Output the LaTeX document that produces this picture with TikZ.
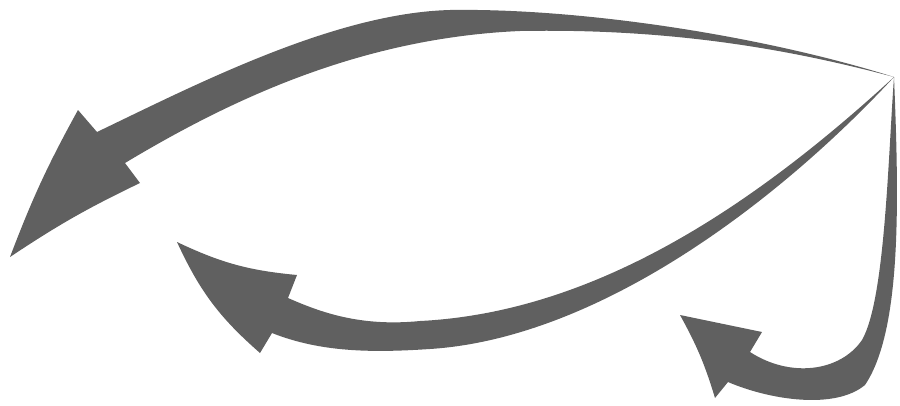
\documentclass[tikz,border=0pt]{standalone}
\usepackage{xcolor}
\usepackage{tikz}
\definecolor{ArrowGrey}{HTML}{606060}

\begin{document}
\begin{tikzpicture}[
    x=1pt, y=-1pt,
    bigarrow/.style={fill=ArrowGrey, draw=none}
  ]
    \useasboundingbox (0,0) rectangle (900,405);
    \coordinate (hub) at (894,77);
    \coordinate (tipTop) at (10,257);
    \coordinate (tipMid) at (177,242);
    \coordinate (tipLow) at (680,315);

    \fill[bigarrow] (hub)
      .. controls (760,35) and (580,8) .. (450,10)
      .. controls (335,13) and (197,84) .. (97,132)
      -- (78,110) to[bend right=4] (tipTop) to[bend left=4] (140,183) -- (125,163)
      .. controls (230,100) and (360,38) .. (520,31)
      .. controls (680,28) and (800,52) .. (hub)
      -- cycle;

    \fill[bigarrow] (hub)
      .. controls (760,200) and (600,312) .. (420,321)
      .. controls (360,327) and (320,312) .. (288,298)
      -- (297,275) to[bend left=10] (tipMid) to[bend right=12] (260,353) -- (272,333)
      .. controls (320,352) and (370,353) .. (430,349)
      .. controls (600,338) and (780,200) .. (hub)
      -- cycle;

    \fill[bigarrow] (hub)
      .. controls (899,200) and (902,330) .. (865,385)
      .. controls (835,410) and (770,400) .. (728,382)
      -- (715,398) to[bend right=6] (tipLow) -- (762,332) -- (750,352)
      .. controls (790,378) and (840,372) .. (862,340)
      .. controls (885,300) and (888,160) .. (hub)
      -- cycle;
\end{tikzpicture}
\end{document}
